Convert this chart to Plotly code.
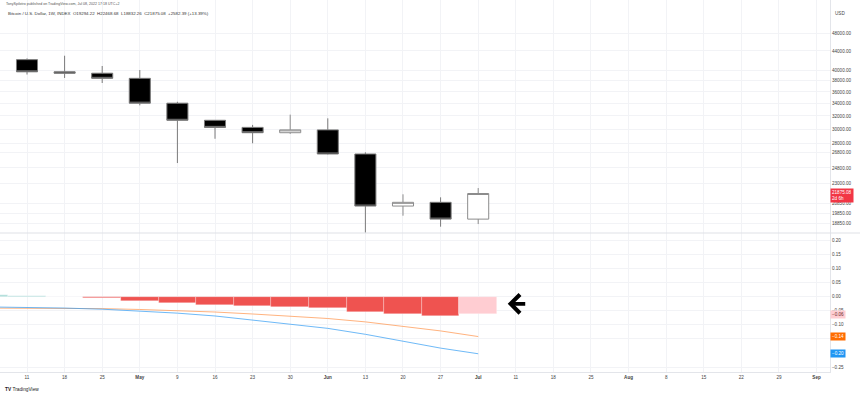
import math
import plotly.graph_objects as go

# ---------------- data ----------------
candle_dates = ["2022-04-11", "2022-04-18", "2022-04-25", "2022-05-02", "2022-05-09",
                "2022-05-16", "2022-05-23", "2022-05-30", "2022-06-06", "2022-06-13",
                "2022-06-20", "2022-06-27", "2022-07-04"]
open_ = [42160, 39720, 39450, 38470, 34060, 31320, 30250, 29470, 29880, 26550, 20570, 20950, 19294.22]
high = [42420, 42980, 40870, 40070, 34300, 31330, 30620, 32200, 31620, 26770, 21790, 21470, 22468.68]
low = [39200, 38540, 37600, 33700, 25400, 28610, 27980, 29300, 26500, 18050, 19620, 18590, 18832.26]
close = [39720, 39450, 38470, 34060, 31320, 30250, 29470, 29880, 26550, 20570, 20950, 19294.22, 21875.08]

ind_dates = ["2022-04-04"] + candle_dates
hist = [0.005, 0.001, -0.003, -0.006, -0.015, -0.024, -0.031, -0.035, -0.037, -0.041,
        -0.054, -0.063, -0.068, -0.063]
macd_line = [-0.037, -0.038, -0.041, -0.045, -0.051, -0.059, -0.069, -0.083, -0.097, -0.113,
             -0.134, -0.158, -0.183, -0.203]
signal_line = [-0.041, -0.041, -0.042, -0.043, -0.046, -0.050, -0.055, -0.062, -0.069, -0.078,
               -0.090, -0.105, -0.122, -0.142]

tick_dates = ["2022-04-11", "2022-04-18", "2022-04-25", "2022-05-02", "2022-05-09", "2022-05-16",
              "2022-05-23", "2022-05-30", "2022-06-06", "2022-06-13", "2022-06-20", "2022-06-27",
              "2022-07-04", "2022-07-11", "2022-07-18", "2022-07-25", "2022-08-01", "2022-08-08",
              "2022-08-15", "2022-08-22", "2022-08-29", "2022-09-05"]
tick_text = ["11", "18", "25", "<b>May</b>", "9", "16", "23", "30", "<b>Jun</b>", "13", "20", "27",
             "<b>Jul</b>", "11", "18", "25", "<b>Aug</b>", "8", "15", "22", "29", "<b>Sep</b>"]

price_ticks = [48000, 44000, 40000, 38000, 36000, 34000, 32000, 30000, 28000, 26800, 24800,
               23000, 20850, 19850, 18850]
ind_ticks = [0.20, 0.15, 0.10, 0.05, 0.0, -0.05, -0.10, -0.15, -0.25]

header1 = "TonySpilotro published on TradingView.com, Jul 08, 2022 17:18 UTC+2"
header2 = ("Bitcoin / U.S. Dollar, 1W, INDEX  O19294.22  H22468.68  L18832.26  C21875.08  "
           "+2582.39 (+13.39%)")
countdown = "2d 6h"

# ---------------- style ----------------
GRID = "#f2f3f6"
AXIS = "#e3e5ea"
TXT = "#444444"
FONT = "Liberation Sans, Arial, sans-serif"
FS = 4.6
PLOT_H = 372.0
SPLIT = (372 - 233) / 372.0

def hist_color(i):
    v = hist[i]
    prev = hist[i - 1] if i > 0 else v
    if v >= 0:
        return "#26a69a" if v > prev else "#b2dfdb"
    return "#ffcdd2" if v > prev else "#ef5350"

fig = go.Figure()
fig.add_trace(go.Candlestick(
    x=candle_dates, open=open_, high=high, low=low, close=close,
    increasing=dict(fillcolor="#ffffff", line=dict(color="#8c8c8c", width=1)),
    decreasing=dict(fillcolor="#000000", line=dict(color="#7a7a7a", width=1)),
    whiskerwidth=0, xaxis="x", yaxis="y", hoverinfo="skip"))

fig.add_trace(go.Bar(
    x=ind_dates, y=hist, width=[7 * 86400000] * len(hist),
    marker=dict(color=[hist_color(i) for i in range(len(hist))],
                line=dict(color="rgba(255,255,255,0.45)", width=0.6)),
    xaxis="x", yaxis="y2", hoverinfo="skip"))

fig.add_trace(go.Scatter(x=ind_dates, y=signal_line, mode="lines",
                         line=dict(color="#ff9a55", width=1), opacity=0.75,
                         xaxis="x", yaxis="y2", hoverinfo="skip"))
fig.add_trace(go.Scatter(x=ind_dates, y=macd_line, mode="lines",
                         line=dict(color="#3fa3f5", width=1), opacity=0.75,
                         xaxis="x", yaxis="y2", hoverinfo="skip"))

annotations = [
    dict(text=header1, xref="paper", yref="paper", x=4 / 830, y=1 - 4 / PLOT_H,
         xanchor="left", yanchor="middle", showarrow=False,
         font=dict(size=3.6, color="#555", family=FONT)),
    dict(text=header2, xref="paper", yref="paper", x=6 / 830, y=1 - 14 / PLOT_H,
         xanchor="left", yanchor="middle", showarrow=False,
         font=dict(size=4.4, color="#333", family=FONT)),
    dict(text="USD", xref="paper", yref="paper", x=833 / 830, y=1 - 14 / PLOT_H,
         xanchor="left", yanchor="middle", showarrow=False,
         font=dict(size=FS, color=TXT, family=FONT)),
    dict(text="<b>TV</b> TradingView", xref="paper", yref="paper", x=3 / 830,
         y=-(389 - 372) / PLOT_H, xanchor="left", yanchor="middle", showarrow=False,
         font=dict(size=4.8, color="#222", family=FONT)),
    # last price box
    dict(text=f"{close[-1]:.2f}<br>{countdown}", xref="paper", yref="y",
         x=830 / 830, y=math.log10(close[-1]), yshift=-2, xanchor="left", yanchor="middle",
         showarrow=False, bgcolor="#f23645", borderpad=1, align="left",
         font=dict(size=FS, color="white", family=FONT)),
    # indicator value boxes
    dict(text=f"{hist[-1]:.2f}".replace("-", "\u2212"), xref="paper", yref="y2", x=830 / 830,
         y=hist[-1], xanchor="left", yanchor="middle", showarrow=False, bgcolor="#ffcdd2",
         borderpad=1, font=dict(size=FS, color="#6b2b2b", family=FONT)),
    dict(text=f"{signal_line[-1]:.2f}".replace("-", "\u2212"), xref="paper", yref="y2",
         x=830 / 830, y=signal_line[-1], xanchor="left", yanchor="middle", showarrow=False,
         bgcolor="#ff6d00", borderpad=1, font=dict(size=FS, color="white", family=FONT)),
    dict(text=f"{macd_line[-1]:.2f}".replace("-", "\u2212"), xref="paper", yref="y2",
         x=830 / 830, y=macd_line[-1], xanchor="left", yanchor="middle", showarrow=False,
         bgcolor="#2196f3", borderpad=1, font=dict(size=FS, color="white", family=FONT)),
    # drawn arrow
    dict(x="2022-07-09 12:00", y=-0.026, xref="x", yref="y2", ax=19, ay=0, text="",
         showarrow=True, arrowhead=4, arrowsize=0.95, arrowwidth=3.8, arrowcolor="#000"),
]

shapes = [
    dict(type="line", xref="paper", yref="y", x0=0, x1=1,
         y0=math.log10(close[-1]), y1=math.log10(close[-1]),
         line=dict(color="rgba(242,54,69,0.3)", width=1)),
    dict(type="line", xref="paper", yref="paper", x0=0, x1=860 / 830, y0=SPLIT, y1=SPLIT,
         line=dict(color="#dfe1e6", width=1)),
]

fig.update_layout(
    width=860, height=396, margin=dict(l=0, r=30, t=0, b=24),
    paper_bgcolor="white", plot_bgcolor="white", showlegend=False,
    boxgap=0.2, bargap=0, font=dict(family=FONT, size=FS, color=TXT),
    annotations=annotations, shapes=shapes,
    xaxis=dict(type="date", range=["2022-04-05 23:20", "2022-09-07 12:00"],
               tickmode="array", tickvals=tick_dates, ticktext=tick_text,
               showgrid=True, gridcolor=GRID, gridwidth=1, zeroline=False,
               showline=True, linecolor=AXIS, ticks="", anchor="y2",
               tickfont=dict(size=FS, color=TXT), rangeslider=dict(visible=False),
               fixedrange=True),
    yaxis=dict(domain=[SPLIT, 1], type="log",
               range=[math.log10(18025), math.log10(56480)], side="right", anchor="x",
               tickmode="array", tickvals=price_ticks,
               ticktext=[f"{v:.2f}" for v in price_ticks],
               showgrid=True, gridcolor=GRID, zeroline=False, showline=True,
               linecolor=AXIS, ticks="", tickfont=dict(size=FS, color=TXT)),
    yaxis2=dict(domain=[0, SPLIT], range=[-0.2677, 0.2252], side="right", anchor="x",
                tickmode="array", tickvals=ind_ticks, tickformat=".2f",
                showgrid=True, gridcolor=GRID, zeroline=False, showline=True,
                linecolor=AXIS, ticks="", tickfont=dict(size=FS, color=TXT)),
)

fig.write_html("out.html", config={"displayModeBar": False},
               post_script="document.body.style.margin='0px';document.body.style.overflow='hidden';")
